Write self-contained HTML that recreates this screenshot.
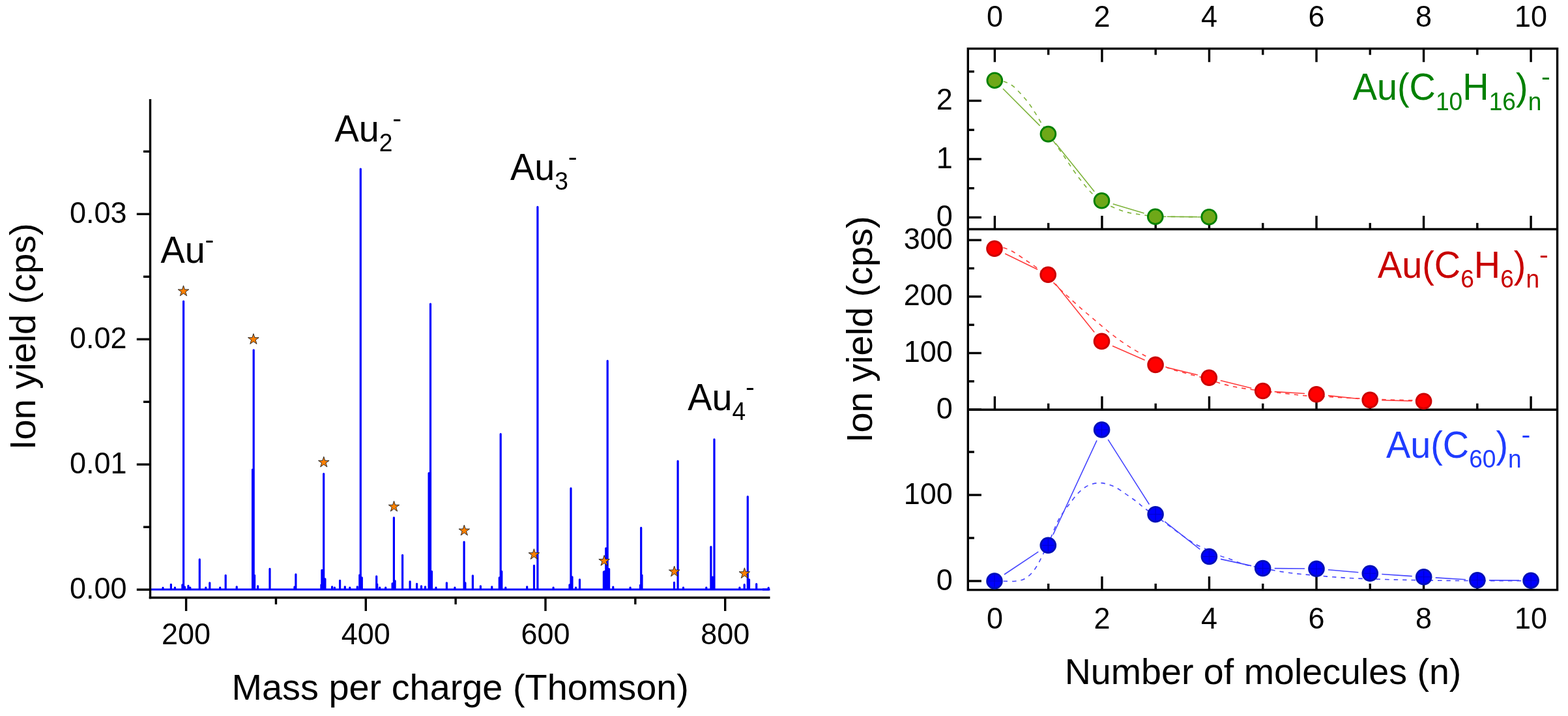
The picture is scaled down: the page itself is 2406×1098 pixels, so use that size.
<!DOCTYPE html>
<html><head><meta charset="utf-8"><title>Ion yield figure</title>
<style>html,body{margin:0;padding:0;background:#fff;overflow:hidden}svg{display:block}</style></head>
<body><svg width="2406" height="1098" viewBox="0 0 2406 1098" font-family="'Liberation Sans', Arial, sans-serif">
<rect width="2406" height="1098" fill="#fff"/>
<path d="M231.5,904.0 H1178 M250.0,904.0 V901.3 M262.4,904.0 V896.3 M268.4,904.0 V901.0 M279.9,904.0 V896.8 M281.6,904.0 V462.0 M283.5,904.0 V900.0 M288.9,904.0 V898.3 M291.8,904.0 V901.0 M306.3,904.0 V857.9 M315.8,904.0 V901.0 M321.8,904.0 V893.8 M337.7,904.0 V901.0 M346.2,904.0 V882.3 M363.2,904.0 V899.8 M387.6,904.0 V720.0 M389.2,904.0 V536.8 M390.6,904.0 V882.3 M395.6,904.0 V898.8 M414.0,904.0 V872.4 M452.0,904.0 V900.0 M453.9,904.0 V880.8 M492.9,904.0 V896.8 M493.9,904.0 V874.4 M496.7,904.0 V726.5 M498.9,904.0 V887.8 M509.6,904.0 V899.8 M513.4,904.0 V901.0 M521.6,904.0 V890.3 M529.3,904.0 V899.8 M536.8,904.0 V901.0 M548.3,904.0 V899.8 M551.8,904.0 V881.8 M553.3,904.0 V259.1 M555.3,904.0 V885.8 M577.7,904.0 V883.8 M578.7,904.0 V895.8 M582.7,904.0 V901.0 M591.7,904.0 V901.0 M602.1,904.0 V894.8 M604.4,904.0 V793.8 M606.1,904.0 V890.8 M617.6,904.0 V851.3 M629.1,904.0 V891.8 M639.6,904.0 V895.3 M646.5,904.0 V898.8 M652.5,904.0 V899.8 M658.1,904.0 V725.5 M660.5,904.0 V466.0 M662.5,904.0 V876.4 M669.0,904.0 V901.0 M685.4,904.0 V893.8 M697.9,904.0 V901.0 M712.1,904.0 V831.0 M713.9,904.0 V893.8 M725.4,904.0 V882.8 M737.4,904.0 V898.8 M754.8,904.0 V899.8 M766.3,904.0 V885.8 M768.2,904.0 V665.7 M769.8,904.0 V876.4 M775.8,904.0 V901.0 M808.7,904.0 V899.8 M819.5,904.0 V867.4 M824.9,904.0 V317.4 M849.1,904.0 V901.0 M874.0,904.0 V896.8 M876.0,904.0 V748.9 M878.0,904.0 V884.8 M883.5,904.0 V901.0 M889.5,904.0 V888.8 M926.4,904.0 V876.9 M929.8,904.0 V840.8 M932.2,904.0 V553.4 M934.6,904.0 V872.5 M940.8,904.0 V900.2 M967.1,904.0 V901.0 M982.5,904.0 V897.4 M983.7,904.0 V809.4 M985.0,904.0 V882.0 M1034.5,904.0 V893.3 M1040.1,904.0 V707.0 M1048.5,904.0 V901.0 M1083.8,904.0 V901.0 M1090.9,904.0 V838.5 M1096.0,904.0 V673.8 M1134.9,904.0 V901.0 M1142.2,904.0 V896.7 M1147.3,904.0 V761.5 M1149.5,904.0 V888.8 M1160.7,904.0 V895.6 M1179.2,904.0 V901.4 M928.2,904.0 V876.0 M1093.4,904.0 V885.0" fill="none" stroke="#0000ff" stroke-width="3.2" stroke-linecap="round" stroke-linejoin="round"/>
<path d="M1170,904.0 H1181.5" stroke="#0000ff" stroke-width="3"/>
<polygon points="281.50,437.90 283.45,443.91 289.77,443.91 284.66,447.63 286.61,453.64 281.50,449.92 276.39,453.64 278.34,447.63 273.23,443.91 279.55,443.91" fill="#ff8000" stroke="#222" stroke-width="0.95" stroke-linejoin="miter"/>
<polygon points="388.90,511.70 390.85,517.71 397.17,517.71 392.06,521.43 394.01,527.44 388.90,523.72 383.79,527.44 385.74,521.43 380.63,517.71 386.95,517.71" fill="#ff8000" stroke="#222" stroke-width="0.95" stroke-linejoin="miter"/>
<polygon points="496.80,700.30 498.75,706.31 505.07,706.31 499.96,710.03 501.91,716.04 496.80,712.32 491.69,716.04 493.64,710.03 488.53,706.31 494.85,706.31" fill="#ff8000" stroke="#222" stroke-width="0.95" stroke-linejoin="miter"/>
<polygon points="604.50,768.30 606.45,774.31 612.77,774.31 607.66,778.03 609.61,784.04 604.50,780.32 599.39,784.04 601.34,778.03 596.23,774.31 602.55,774.31" fill="#ff8000" stroke="#222" stroke-width="0.95" stroke-linejoin="miter"/>
<polygon points="712.30,805.10 714.25,811.11 720.57,811.11 715.46,814.83 717.41,820.84 712.30,817.12 707.19,820.84 709.14,814.83 704.03,811.11 710.35,811.11" fill="#ff8000" stroke="#222" stroke-width="0.95" stroke-linejoin="miter"/>
<polygon points="819.40,841.70 821.35,847.71 827.67,847.71 822.56,851.43 824.51,857.44 819.40,853.72 814.29,857.44 816.24,851.43 811.13,847.71 817.45,847.71" fill="#ff8000" stroke="#222" stroke-width="0.95" stroke-linejoin="miter"/>
<polygon points="927.10,851.50 929.05,857.51 935.37,857.51 930.26,861.23 932.21,867.24 927.10,863.52 921.99,867.24 923.94,861.23 918.83,857.51 925.15,857.51" fill="#ff8000" stroke="#222" stroke-width="0.95" stroke-linejoin="miter"/>
<polygon points="1034.70,868.00 1036.65,874.01 1042.97,874.01 1037.86,877.73 1039.81,883.74 1034.70,880.02 1029.59,883.74 1031.54,877.73 1026.43,874.01 1032.75,874.01" fill="#ff8000" stroke="#222" stroke-width="0.95" stroke-linejoin="miter"/>
<polygon points="1142.40,870.80 1144.35,876.81 1150.67,876.81 1145.56,880.53 1147.51,886.54 1142.40,882.82 1137.29,886.54 1139.24,880.53 1134.13,876.81 1140.45,876.81" fill="#ff8000" stroke="#222" stroke-width="0.95" stroke-linejoin="miter"/>
<line x1="230.50" y1="152.00" x2="230.50" y2="918.20" stroke="#000" stroke-width="3.4" stroke-linecap="butt"/>
<line x1="228.80" y1="916.50" x2="1181.50" y2="916.50" stroke="#000" stroke-width="3.4" stroke-linecap="butt"/>
<line x1="209.80" y1="904.20" x2="230.50" y2="904.20" stroke="#000" stroke-width="3.4" stroke-linecap="butt"/>
<line x1="209.80" y1="712.23" x2="230.50" y2="712.23" stroke="#000" stroke-width="3.4" stroke-linecap="butt"/>
<line x1="209.80" y1="520.26" x2="230.50" y2="520.26" stroke="#000" stroke-width="3.4" stroke-linecap="butt"/>
<line x1="209.80" y1="328.29" x2="230.50" y2="328.29" stroke="#000" stroke-width="3.4" stroke-linecap="butt"/>
<line x1="220.00" y1="808.22" x2="230.50" y2="808.22" stroke="#000" stroke-width="3.4" stroke-linecap="butt"/>
<line x1="220.00" y1="616.25" x2="230.50" y2="616.25" stroke="#000" stroke-width="3.4" stroke-linecap="butt"/>
<line x1="220.00" y1="424.28" x2="230.50" y2="424.28" stroke="#000" stroke-width="3.4" stroke-linecap="butt"/>
<line x1="220.00" y1="232.30" x2="230.50" y2="232.30" stroke="#000" stroke-width="3.4" stroke-linecap="butt"/>
<line x1="285.60" y1="916.50" x2="285.60" y2="937.00" stroke="#000" stroke-width="3.4" stroke-linecap="butt"/>
<line x1="561.30" y1="916.50" x2="561.30" y2="937.00" stroke="#000" stroke-width="3.4" stroke-linecap="butt"/>
<line x1="837.00" y1="916.50" x2="837.00" y2="937.00" stroke="#000" stroke-width="3.4" stroke-linecap="butt"/>
<line x1="1112.70" y1="916.50" x2="1112.70" y2="937.00" stroke="#000" stroke-width="3.4" stroke-linecap="butt"/>
<line x1="423.45" y1="916.50" x2="423.45" y2="926.80" stroke="#000" stroke-width="3.4" stroke-linecap="butt"/>
<line x1="699.15" y1="916.50" x2="699.15" y2="926.80" stroke="#000" stroke-width="3.4" stroke-linecap="butt"/>
<line x1="974.85" y1="916.50" x2="974.85" y2="926.80" stroke="#000" stroke-width="3.4" stroke-linecap="butt"/>
<text transform="translate(194.50,917.80) scale(1,1.04)" font-size="45.0" text-anchor="end" fill="#000">0.00</text>
<text transform="translate(194.50,725.83) scale(1,1.04)" font-size="45.0" text-anchor="end" fill="#000">0.01</text>
<text transform="translate(194.50,533.86) scale(1,1.04)" font-size="45.0" text-anchor="end" fill="#000">0.02</text>
<text transform="translate(194.50,341.89) scale(1,1.04)" font-size="45.0" text-anchor="end" fill="#000">0.03</text>
<text transform="translate(285.60,987.60) scale(1,1.04)" font-size="45.0" text-anchor="middle" fill="#000">200</text>
<text transform="translate(561.30,987.60) scale(1,1.04)" font-size="45.0" text-anchor="middle" fill="#000">400</text>
<text transform="translate(837.00,987.60) scale(1,1.04)" font-size="45.0" text-anchor="middle" fill="#000">600</text>
<text transform="translate(1112.70,987.60) scale(1,1.04)" font-size="45.0" text-anchor="middle" fill="#000">800</text>
<text transform="translate(355.50,1072.70) scale(1,1.0)" font-size="55.85" fill="#000">Mass per charge (Thomson)</text>
<text transform="translate(53.60,689.90) rotate(-90) scale(1,1.0)" font-size="55.85" fill="#000">Ion yield (cps)</text>
<text transform="translate(246.40,402.60) scale(1,1.02)" font-size="55.85" fill="#000">Au</text>
<text transform="translate(314.51,380.60) scale(1.12,1.02)" font-size="37.2" fill="#000">-</text>
<text transform="translate(513.40,217.10) scale(1,1.02)" font-size="55.85" fill="#000">Au</text>
<text transform="translate(581.71,232.30) scale(1,1.02)" font-size="37.2" fill="#000">2</text>
<text transform="translate(602.20,195.10) scale(1.12,1.02)" font-size="37.2" fill="#000">-</text>
<text transform="translate(783.00,275.90) scale(1,1.02)" font-size="55.85" fill="#000">Au</text>
<text transform="translate(851.31,291.10) scale(1,1.02)" font-size="37.2" fill="#000">3</text>
<text transform="translate(871.80,253.90) scale(1.12,1.02)" font-size="37.2" fill="#000">-</text>
<text transform="translate(1055.30,629.10) scale(1,1.02)" font-size="55.85" fill="#000">Au</text>
<text transform="translate(1123.61,644.30) scale(1,1.02)" font-size="37.2" fill="#000">4</text>
<text transform="translate(1144.10,607.10) scale(1.12,1.02)" font-size="37.2" fill="#000">-</text>
<rect x="1485.3" y="74.6" width="904.3" height="830.0" fill="none" stroke="#000" stroke-width="3.4"/>
<line x1="1485.30" y1="351.50" x2="2389.60" y2="351.50" stroke="#000" stroke-width="3.4" stroke-linecap="butt"/>
<line x1="1485.30" y1="628.30" x2="2389.60" y2="628.30" stroke="#000" stroke-width="3.4" stroke-linecap="butt"/>
<line x1="1526.40" y1="74.60" x2="1526.40" y2="95.20" stroke="#000" stroke-width="3.4" stroke-linecap="butt"/>
<line x1="1526.40" y1="351.50" x2="1526.40" y2="330.90" stroke="#000" stroke-width="3.4" stroke-linecap="butt"/>
<line x1="1526.40" y1="628.30" x2="1526.40" y2="607.70" stroke="#000" stroke-width="3.4" stroke-linecap="butt"/>
<line x1="1526.40" y1="904.60" x2="1526.40" y2="884.00" stroke="#000" stroke-width="3.4" stroke-linecap="butt"/>
<line x1="1608.67" y1="74.60" x2="1608.67" y2="84.20" stroke="#000" stroke-width="3.4" stroke-linecap="butt"/>
<line x1="1608.67" y1="351.50" x2="1608.67" y2="341.90" stroke="#000" stroke-width="3.4" stroke-linecap="butt"/>
<line x1="1608.67" y1="628.30" x2="1608.67" y2="618.70" stroke="#000" stroke-width="3.4" stroke-linecap="butt"/>
<line x1="1608.67" y1="904.60" x2="1608.67" y2="895.00" stroke="#000" stroke-width="3.4" stroke-linecap="butt"/>
<line x1="1690.94" y1="74.60" x2="1690.94" y2="95.20" stroke="#000" stroke-width="3.4" stroke-linecap="butt"/>
<line x1="1690.94" y1="351.50" x2="1690.94" y2="330.90" stroke="#000" stroke-width="3.4" stroke-linecap="butt"/>
<line x1="1690.94" y1="628.30" x2="1690.94" y2="607.70" stroke="#000" stroke-width="3.4" stroke-linecap="butt"/>
<line x1="1690.94" y1="904.60" x2="1690.94" y2="884.00" stroke="#000" stroke-width="3.4" stroke-linecap="butt"/>
<line x1="1773.21" y1="74.60" x2="1773.21" y2="84.20" stroke="#000" stroke-width="3.4" stroke-linecap="butt"/>
<line x1="1773.21" y1="351.50" x2="1773.21" y2="341.90" stroke="#000" stroke-width="3.4" stroke-linecap="butt"/>
<line x1="1773.21" y1="628.30" x2="1773.21" y2="618.70" stroke="#000" stroke-width="3.4" stroke-linecap="butt"/>
<line x1="1773.21" y1="904.60" x2="1773.21" y2="895.00" stroke="#000" stroke-width="3.4" stroke-linecap="butt"/>
<line x1="1855.48" y1="74.60" x2="1855.48" y2="95.20" stroke="#000" stroke-width="3.4" stroke-linecap="butt"/>
<line x1="1855.48" y1="351.50" x2="1855.48" y2="330.90" stroke="#000" stroke-width="3.4" stroke-linecap="butt"/>
<line x1="1855.48" y1="628.30" x2="1855.48" y2="607.70" stroke="#000" stroke-width="3.4" stroke-linecap="butt"/>
<line x1="1855.48" y1="904.60" x2="1855.48" y2="884.00" stroke="#000" stroke-width="3.4" stroke-linecap="butt"/>
<line x1="1937.75" y1="74.60" x2="1937.75" y2="84.20" stroke="#000" stroke-width="3.4" stroke-linecap="butt"/>
<line x1="1937.75" y1="351.50" x2="1937.75" y2="341.90" stroke="#000" stroke-width="3.4" stroke-linecap="butt"/>
<line x1="1937.75" y1="628.30" x2="1937.75" y2="618.70" stroke="#000" stroke-width="3.4" stroke-linecap="butt"/>
<line x1="1937.75" y1="904.60" x2="1937.75" y2="895.00" stroke="#000" stroke-width="3.4" stroke-linecap="butt"/>
<line x1="2020.02" y1="74.60" x2="2020.02" y2="95.20" stroke="#000" stroke-width="3.4" stroke-linecap="butt"/>
<line x1="2020.02" y1="351.50" x2="2020.02" y2="330.90" stroke="#000" stroke-width="3.4" stroke-linecap="butt"/>
<line x1="2020.02" y1="628.30" x2="2020.02" y2="607.70" stroke="#000" stroke-width="3.4" stroke-linecap="butt"/>
<line x1="2020.02" y1="904.60" x2="2020.02" y2="884.00" stroke="#000" stroke-width="3.4" stroke-linecap="butt"/>
<line x1="2102.29" y1="74.60" x2="2102.29" y2="84.20" stroke="#000" stroke-width="3.4" stroke-linecap="butt"/>
<line x1="2102.29" y1="351.50" x2="2102.29" y2="341.90" stroke="#000" stroke-width="3.4" stroke-linecap="butt"/>
<line x1="2102.29" y1="628.30" x2="2102.29" y2="618.70" stroke="#000" stroke-width="3.4" stroke-linecap="butt"/>
<line x1="2102.29" y1="904.60" x2="2102.29" y2="895.00" stroke="#000" stroke-width="3.4" stroke-linecap="butt"/>
<line x1="2184.56" y1="74.60" x2="2184.56" y2="95.20" stroke="#000" stroke-width="3.4" stroke-linecap="butt"/>
<line x1="2184.56" y1="351.50" x2="2184.56" y2="330.90" stroke="#000" stroke-width="3.4" stroke-linecap="butt"/>
<line x1="2184.56" y1="628.30" x2="2184.56" y2="607.70" stroke="#000" stroke-width="3.4" stroke-linecap="butt"/>
<line x1="2184.56" y1="904.60" x2="2184.56" y2="884.00" stroke="#000" stroke-width="3.4" stroke-linecap="butt"/>
<line x1="2266.83" y1="74.60" x2="2266.83" y2="84.20" stroke="#000" stroke-width="3.4" stroke-linecap="butt"/>
<line x1="2266.83" y1="351.50" x2="2266.83" y2="341.90" stroke="#000" stroke-width="3.4" stroke-linecap="butt"/>
<line x1="2266.83" y1="628.30" x2="2266.83" y2="618.70" stroke="#000" stroke-width="3.4" stroke-linecap="butt"/>
<line x1="2266.83" y1="904.60" x2="2266.83" y2="895.00" stroke="#000" stroke-width="3.4" stroke-linecap="butt"/>
<line x1="2349.10" y1="74.60" x2="2349.10" y2="95.20" stroke="#000" stroke-width="3.4" stroke-linecap="butt"/>
<line x1="2349.10" y1="351.50" x2="2349.10" y2="330.90" stroke="#000" stroke-width="3.4" stroke-linecap="butt"/>
<line x1="2349.10" y1="628.30" x2="2349.10" y2="607.70" stroke="#000" stroke-width="3.4" stroke-linecap="butt"/>
<line x1="2349.10" y1="904.60" x2="2349.10" y2="884.00" stroke="#000" stroke-width="3.4" stroke-linecap="butt"/>
<text transform="translate(1526.40,41.20) scale(1,1.04)" font-size="45.0" text-anchor="middle" fill="#000">0</text>
<text transform="translate(1526.40,963.60) scale(1,1.04)" font-size="45.0" text-anchor="middle" fill="#000">0</text>
<text transform="translate(1690.94,41.20) scale(1,1.04)" font-size="45.0" text-anchor="middle" fill="#000">2</text>
<text transform="translate(1690.94,963.60) scale(1,1.04)" font-size="45.0" text-anchor="middle" fill="#000">2</text>
<text transform="translate(1855.48,41.20) scale(1,1.04)" font-size="45.0" text-anchor="middle" fill="#000">4</text>
<text transform="translate(1855.48,963.60) scale(1,1.04)" font-size="45.0" text-anchor="middle" fill="#000">4</text>
<text transform="translate(2020.02,41.20) scale(1,1.04)" font-size="45.0" text-anchor="middle" fill="#000">6</text>
<text transform="translate(2020.02,963.60) scale(1,1.04)" font-size="45.0" text-anchor="middle" fill="#000">6</text>
<text transform="translate(2184.56,41.20) scale(1,1.04)" font-size="45.0" text-anchor="middle" fill="#000">8</text>
<text transform="translate(2184.56,963.60) scale(1,1.04)" font-size="45.0" text-anchor="middle" fill="#000">8</text>
<text transform="translate(2349.10,41.20) scale(1,1.04)" font-size="45.0" text-anchor="middle" fill="#000">10</text>
<text transform="translate(2349.10,963.60) scale(1,1.04)" font-size="45.0" text-anchor="middle" fill="#000">10</text>
<line x1="1485.30" y1="333.40" x2="1505.90" y2="333.40" stroke="#000" stroke-width="3.4" stroke-linecap="butt"/>
<text transform="translate(1461.76,347.00) scale(1,1.04)" font-size="45.0" text-anchor="end" fill="#000">0</text>
<line x1="1485.30" y1="243.95" x2="1505.90" y2="243.95" stroke="#000" stroke-width="3.4" stroke-linecap="butt"/>
<text transform="translate(1461.76,257.55) scale(1,1.04)" font-size="45.0" text-anchor="end" fill="#000">1</text>
<line x1="1485.30" y1="154.50" x2="1505.90" y2="154.50" stroke="#000" stroke-width="3.4" stroke-linecap="butt"/>
<text transform="translate(1461.76,168.10) scale(1,1.04)" font-size="45.0" text-anchor="end" fill="#000">2</text>
<line x1="1485.30" y1="288.67" x2="1494.90" y2="288.67" stroke="#000" stroke-width="3.4" stroke-linecap="butt"/>
<line x1="1485.30" y1="199.22" x2="1494.90" y2="199.22" stroke="#000" stroke-width="3.4" stroke-linecap="butt"/>
<line x1="1485.30" y1="109.77" x2="1494.90" y2="109.77" stroke="#000" stroke-width="3.4" stroke-linecap="butt"/>
<line x1="1485.30" y1="628.10" x2="1505.90" y2="628.10" stroke="#000" stroke-width="3.4" stroke-linecap="butt"/>
<text transform="translate(1461.76,641.70) scale(1,1.04)" font-size="45.0" text-anchor="end" fill="#000">0</text>
<line x1="1485.30" y1="541.47" x2="1505.90" y2="541.47" stroke="#000" stroke-width="3.4" stroke-linecap="butt"/>
<text transform="translate(1461.76,555.07) scale(1,1.04)" font-size="45.0" text-anchor="end" fill="#000">100</text>
<line x1="1485.30" y1="454.84" x2="1505.90" y2="454.84" stroke="#000" stroke-width="3.4" stroke-linecap="butt"/>
<text transform="translate(1461.76,468.44) scale(1,1.04)" font-size="45.0" text-anchor="end" fill="#000">200</text>
<line x1="1485.30" y1="368.21" x2="1505.90" y2="368.21" stroke="#000" stroke-width="3.4" stroke-linecap="butt"/>
<text transform="translate(1461.76,381.81) scale(1,1.04)" font-size="45.0" text-anchor="end" fill="#000">300</text>
<line x1="1485.30" y1="584.79" x2="1494.90" y2="584.79" stroke="#000" stroke-width="3.4" stroke-linecap="butt"/>
<line x1="1485.30" y1="498.16" x2="1494.90" y2="498.16" stroke="#000" stroke-width="3.4" stroke-linecap="butt"/>
<line x1="1485.30" y1="411.53" x2="1494.90" y2="411.53" stroke="#000" stroke-width="3.4" stroke-linecap="butt"/>
<line x1="1485.30" y1="891.00" x2="1505.90" y2="891.00" stroke="#000" stroke-width="3.4" stroke-linecap="butt"/>
<text transform="translate(1461.76,904.60) scale(1,1.04)" font-size="45.0" text-anchor="end" fill="#000">0</text>
<line x1="1485.30" y1="759.05" x2="1505.90" y2="759.05" stroke="#000" stroke-width="3.4" stroke-linecap="butt"/>
<text transform="translate(1461.76,772.65) scale(1,1.04)" font-size="45.0" text-anchor="end" fill="#000">100</text>
<line x1="1485.30" y1="825.02" x2="1494.90" y2="825.02" stroke="#000" stroke-width="3.4" stroke-linecap="butt"/>
<line x1="1485.30" y1="693.08" x2="1494.90" y2="693.08" stroke="#000" stroke-width="3.4" stroke-linecap="butt"/>
<path d="M1526.30,122.50 C1528.67,122.92 1535.85,123.43 1540.50,125.00 C1545.15,126.57 1549.65,128.48 1554.20,131.90 C1558.75,135.32 1563.63,140.95 1567.80,145.50 C1571.97,150.05 1575.78,154.63 1579.20,159.20 C1582.62,163.77 1585.07,167.78 1588.30,172.90 C1591.53,178.02 1595.15,184.47 1598.60,189.90 C1602.05,195.33 1605.40,200.18 1609.00,205.50 C1612.60,210.82 1616.07,215.85 1620.20,221.80 C1624.33,227.75 1629.25,234.55 1633.80,241.20 C1638.35,247.85 1642.93,255.25 1647.50,261.70 C1652.07,268.15 1656.65,274.22 1661.20,279.90 C1665.75,285.58 1670.00,291.12 1674.80,295.80 C1679.60,300.48 1685.45,304.77 1690.00,308.00 C1694.55,311.23 1696.28,312.48 1702.10,315.20 C1707.92,317.92 1717.30,322.03 1724.90,324.30 C1732.50,326.57 1739.85,327.55 1747.70,328.80 C1755.55,330.05 1764.42,331.22 1772.00,331.80 C1779.58,332.38 1782.07,332.15 1793.20,332.30 C1804.33,332.45 1828.47,332.62 1838.80,332.70 C1849.13,332.78 1852.47,332.78 1855.20,332.80" fill="none" stroke="#7db33a" stroke-width="1.6" stroke-dasharray="6.5 7"/>
<path d="M1539.01,136.04 L1595.69,192.86 M1619.68,219.63 L1679.22,293.67 M1707.75,312.84 L1755.55,327.06 M1790.80,332.31 L1837.20,332.59" fill="none" stroke="#7db33a" stroke-width="1.6"/>
<circle cx="1526.30" cy="123.30" r="11.4" fill="#6ea818" stroke="#008000" stroke-width="2.8"/>
<circle cx="1608.40" cy="205.60" r="11.4" fill="#6ea818" stroke="#008000" stroke-width="2.8"/>
<circle cx="1690.50" cy="307.70" r="11.4" fill="#6ea818" stroke="#008000" stroke-width="2.8"/>
<circle cx="1772.80" cy="332.20" r="11.4" fill="#6ea818" stroke="#008000" stroke-width="2.8"/>
<circle cx="1855.20" cy="332.70" r="11.4" fill="#6ea818" stroke="#008000" stroke-width="2.8"/>
<path d="M1526.00,379.00 C1528.33,379.17 1535.00,378.67 1540.00,380.00 C1545.00,381.33 1550.32,383.82 1556.00,387.00 C1561.68,390.18 1568.40,395.25 1574.10,399.10 C1579.80,402.95 1584.55,405.78 1590.20,410.10 C1595.85,414.42 1602.00,419.48 1608.00,425.00 C1614.00,430.52 1620.82,438.00 1626.20,443.20 C1631.58,448.40 1634.62,451.02 1640.30,456.20 C1645.98,461.38 1653.62,468.45 1660.30,474.30 C1666.98,480.15 1673.72,485.63 1680.40,491.30 C1687.08,496.97 1693.73,502.95 1700.40,508.30 C1707.07,513.65 1713.72,518.72 1720.40,523.40 C1727.08,528.08 1733.82,532.40 1740.50,536.40 C1747.18,540.40 1752.15,542.90 1760.50,547.40 C1768.85,551.90 1780.68,559.22 1790.60,563.40 C1800.52,567.58 1810.10,569.65 1820.00,572.50 C1829.90,575.35 1840.43,577.72 1850.00,580.50 C1859.57,583.28 1868.62,586.83 1877.40,589.20 C1886.18,591.57 1892.77,592.97 1902.70,594.70 C1912.63,596.43 1925.43,598.15 1937.00,599.60 C1948.57,601.05 1960.98,602.18 1972.10,603.40 C1983.22,604.62 1993.17,606.10 2003.70,606.90 C2014.23,607.70 2026.08,607.72 2035.30,608.20 C2044.52,608.68 2047.88,609.20 2059.00,609.80 C2070.12,610.40 2090.17,611.28 2102.00,611.80 C2113.83,612.32 2120.05,612.58 2130.00,612.90 C2139.95,613.22 2152.60,613.43 2161.70,613.70 C2170.80,613.97 2180.78,614.37 2184.60,614.50" fill="none" stroke="#ff3b3b" stroke-width="1.6" stroke-dasharray="6.5 7"/>
<path d="M1542.19,389.08 L1592.01,413.32 M1619.49,435.22 L1679.21,509.38 M1707.00,530.59 L1756.60,552.21 M1790.59,563.64 L1837.81,575.06 M1872.78,583.59 L1920.22,595.21 M1955.66,600.64 L2002.04,603.56 M2037.90,606.59 L2084.30,611.51 M2120.20,613.81 L2166.60,614.89" fill="none" stroke="#ff3b3b" stroke-width="1.6"/>
<circle cx="1526.00" cy="381.20" r="11.4" fill="#ff0000" stroke="#cc0000" stroke-width="2.8"/>
<circle cx="1608.20" cy="421.20" r="11.4" fill="#ff0000" stroke="#cc0000" stroke-width="2.8"/>
<circle cx="1690.50" cy="523.40" r="11.4" fill="#ff0000" stroke="#cc0000" stroke-width="2.8"/>
<circle cx="1773.10" cy="559.40" r="11.4" fill="#ff0000" stroke="#cc0000" stroke-width="2.8"/>
<circle cx="1855.30" cy="579.30" r="11.4" fill="#ff0000" stroke="#cc0000" stroke-width="2.8"/>
<circle cx="1937.70" cy="599.50" r="11.4" fill="#ff0000" stroke="#cc0000" stroke-width="2.8"/>
<circle cx="2020.00" cy="604.70" r="11.4" fill="#ff0000" stroke="#cc0000" stroke-width="2.8"/>
<circle cx="2102.20" cy="613.40" r="11.4" fill="#ff0000" stroke="#cc0000" stroke-width="2.8"/>
<circle cx="2184.60" cy="615.30" r="11.4" fill="#ff0000" stroke="#cc0000" stroke-width="2.8"/>
<path d="M1526.00,891.00 C1528.58,891.05 1536.18,891.27 1541.50,891.30 C1546.82,891.33 1552.98,891.72 1557.90,891.20 C1562.82,890.68 1566.98,890.07 1571.00,888.20 C1575.02,886.33 1578.72,883.28 1582.00,880.00 C1585.28,876.72 1587.97,872.78 1590.70,868.50 C1593.43,864.22 1595.02,861.05 1598.40,854.30 C1601.78,847.55 1606.82,837.28 1611.00,828.00 C1615.18,818.72 1619.42,806.60 1623.50,798.60 C1627.58,790.60 1632.50,784.37 1635.50,780.00 C1638.50,775.63 1638.92,775.73 1641.50,772.40 C1644.08,769.07 1647.85,763.63 1651.00,760.00 C1654.15,756.37 1656.83,753.38 1660.40,750.60 C1663.97,747.82 1668.03,744.97 1672.40,743.30 C1676.77,741.63 1682.05,740.72 1686.60,740.60 C1691.15,740.48 1695.52,741.48 1699.70,742.60 C1703.88,743.72 1707.68,745.23 1711.70,747.30 C1715.72,749.37 1719.97,752.45 1723.80,755.00 C1727.63,757.55 1731.18,760.12 1734.70,762.60 C1738.22,765.08 1741.38,767.17 1744.90,769.90 C1748.42,772.63 1751.12,775.48 1755.80,779.00 C1760.48,782.52 1767.52,787.10 1773.00,791.00 C1778.48,794.90 1783.03,798.23 1788.70,802.40 C1794.37,806.57 1800.98,811.63 1807.00,816.00 C1813.02,820.37 1820.17,825.47 1824.80,828.60 C1829.43,831.73 1830.85,832.72 1834.80,834.80 C1838.75,836.88 1842.27,838.18 1848.50,841.10 C1854.73,844.02 1865.97,849.70 1872.20,852.30 C1878.43,854.90 1881.32,855.03 1885.90,856.70 C1890.48,858.37 1895.12,860.65 1899.70,862.30 C1904.28,863.95 1907.18,865.12 1913.40,866.60 C1919.62,868.08 1930.57,869.95 1937.00,871.20 C1943.43,872.45 1947.22,873.20 1952.00,874.10 C1956.78,875.00 1960.92,875.83 1965.70,876.60 C1970.48,877.37 1975.92,878.08 1980.70,878.70 C1985.48,879.32 1989.62,879.82 1994.40,880.30 C1999.18,880.78 2002.33,880.97 2009.40,881.60 C2016.47,882.23 2029.53,883.48 2036.80,884.10 C2044.07,884.72 2046.40,884.85 2053.00,885.30 C2059.60,885.75 2064.98,886.28 2076.40,886.80 C2087.82,887.32 2106.95,887.95 2121.50,888.40 C2136.05,888.85 2149.88,889.20 2163.70,889.50 C2177.52,889.80 2191.07,890.03 2204.40,890.20 C2217.73,890.37 2227.45,890.43 2243.70,890.50 C2259.95,890.57 2284.35,890.58 2301.90,890.60 C2319.45,890.62 2341.15,890.60 2349.00,890.60" fill="none" stroke="#4646ff" stroke-width="1.6" stroke-dasharray="6.5 7"/>
<path d="M1540.98,881.02 L1593.32,846.18 M1615.88,819.87 L1683.02,675.33 M1700.26,674.19 L1763.44,773.51 M1787.24,799.84 L1841.26,842.36 M1872.98,857.35 L1920.12,867.65 M1955.70,871.65 L2002.00,872.05 M2037.93,873.75 L2084.37,877.75 M2120.26,880.50 L2166.74,883.60 M2202.67,885.89 L2248.93,888.71 M2284.90,889.89 L2331.10,890.11" fill="none" stroke="#4646ff" stroke-width="1.6"/>
<circle cx="1526.00" cy="891.00" r="11.4" fill="#0000ff" stroke="#0010b8" stroke-width="2.8"/>
<path d="M1516.00,891.00 H1536.00 M1526.00,881.00 V901.00" stroke="#0000c8" stroke-width="1.1"/>
<circle cx="1608.30" cy="836.20" r="11.4" fill="#0000ff" stroke="#0010b8" stroke-width="2.8"/>
<path d="M1598.30,836.20 H1618.30 M1608.30,826.20 V846.20" stroke="#0000c8" stroke-width="1.1"/>
<circle cx="1690.60" cy="659.00" r="11.4" fill="#0000ff" stroke="#0010b8" stroke-width="2.8"/>
<path d="M1680.60,659.00 H1700.60 M1690.60,649.00 V669.00" stroke="#0000c8" stroke-width="1.1"/>
<circle cx="1773.10" cy="788.70" r="11.4" fill="#0000ff" stroke="#0010b8" stroke-width="2.8"/>
<path d="M1763.10,788.70 H1783.10 M1773.10,778.70 V798.70" stroke="#0000c8" stroke-width="1.1"/>
<circle cx="1855.40" cy="853.50" r="11.4" fill="#0000ff" stroke="#0010b8" stroke-width="2.8"/>
<path d="M1845.40,853.50 H1865.40 M1855.40,843.50 V863.50" stroke="#0000c8" stroke-width="1.1"/>
<circle cx="1937.70" cy="871.50" r="11.4" fill="#0000ff" stroke="#0010b8" stroke-width="2.8"/>
<path d="M1927.70,871.50 H1947.70 M1937.70,861.50 V881.50" stroke="#0000c8" stroke-width="1.1"/>
<circle cx="2020.00" cy="872.20" r="11.4" fill="#0000ff" stroke="#0010b8" stroke-width="2.8"/>
<path d="M2010.00,872.20 H2030.00 M2020.00,862.20 V882.20" stroke="#0000c8" stroke-width="1.1"/>
<circle cx="2102.30" cy="879.30" r="11.4" fill="#0000ff" stroke="#0010b8" stroke-width="2.8"/>
<path d="M2092.30,879.30 H2112.30 M2102.30,869.30 V889.30" stroke="#0000c8" stroke-width="1.1"/>
<circle cx="2184.70" cy="884.80" r="11.4" fill="#0000ff" stroke="#0010b8" stroke-width="2.8"/>
<path d="M2174.70,884.80 H2194.70 M2184.70,874.80 V894.80" stroke="#0000c8" stroke-width="1.1"/>
<circle cx="2266.90" cy="889.80" r="11.4" fill="#0000ff" stroke="#0010b8" stroke-width="2.8"/>
<path d="M2256.90,889.80 H2276.90 M2266.90,879.80 V899.80" stroke="#0000c8" stroke-width="1.1"/>
<circle cx="2349.10" cy="890.20" r="11.4" fill="#0000ff" stroke="#0010b8" stroke-width="2.8"/>
<path d="M2339.10,890.20 H2359.10 M2349.10,880.20 V900.20" stroke="#0000c8" stroke-width="1.1"/>
<text transform="translate(1633.70,1048.60) scale(1,1.0)" font-size="55.6" fill="#000">Number of molecules (n)</text>
<text transform="translate(1338.30,679.00) rotate(-90) scale(1,1.0)" font-size="55.85" fill="#000">Ion yield (cps)</text>
<text transform="translate(2075.70,153.30) scale(1,1.02)" font-size="55.85" fill="#008000">Au(C</text>
<text transform="translate(2202.94,168.50) scale(1,1.02)" font-size="37.2" fill="#008000">10</text>
<text transform="translate(2244.32,153.30) scale(1,1.02)" font-size="55.85" fill="#008000">H</text>
<text transform="translate(2284.66,168.50) scale(1,1.02)" font-size="37.2" fill="#008000">16</text>
<text transform="translate(2326.03,153.30) scale(1,1.02)" font-size="55.85" fill="#008000">)</text>
<text transform="translate(2344.63,168.50) scale(1,1.02)" font-size="37.2" fill="#008000">n</text>
<text transform="translate(2365.12,131.30) scale(1.12,1.02)" font-size="37.2" fill="#008000">-</text>
<text transform="translate(2113.90,425.80) scale(1,1.02)" font-size="55.85" fill="#c80000">Au(C</text>
<text transform="translate(2241.14,441.00) scale(1,1.02)" font-size="37.2" fill="#c80000">6</text>
<text transform="translate(2261.83,425.80) scale(1,1.02)" font-size="55.85" fill="#c80000">H</text>
<text transform="translate(2302.17,441.00) scale(1,1.02)" font-size="37.2" fill="#c80000">6</text>
<text transform="translate(2322.86,425.80) scale(1,1.02)" font-size="55.85" fill="#c80000">)</text>
<text transform="translate(2341.45,441.00) scale(1,1.02)" font-size="37.2" fill="#c80000">n</text>
<text transform="translate(2361.94,403.80) scale(1.12,1.02)" font-size="37.2" fill="#c80000">-</text>
<text transform="translate(2126.90,702.10) scale(1,1.02)" font-size="55.85" fill="#1f3cff">Au(C</text>
<text transform="translate(2254.14,717.30) scale(1,1.02)" font-size="37.2" fill="#1f3cff">60</text>
<text transform="translate(2295.52,702.10) scale(1,1.02)" font-size="55.85" fill="#1f3cff">)</text>
<text transform="translate(2314.12,717.30) scale(1,1.02)" font-size="37.2" fill="#1f3cff">n</text>
<text transform="translate(2334.61,680.10) scale(1.12,1.02)" font-size="37.2" fill="#1f3cff">-</text>
</svg></body></html>
